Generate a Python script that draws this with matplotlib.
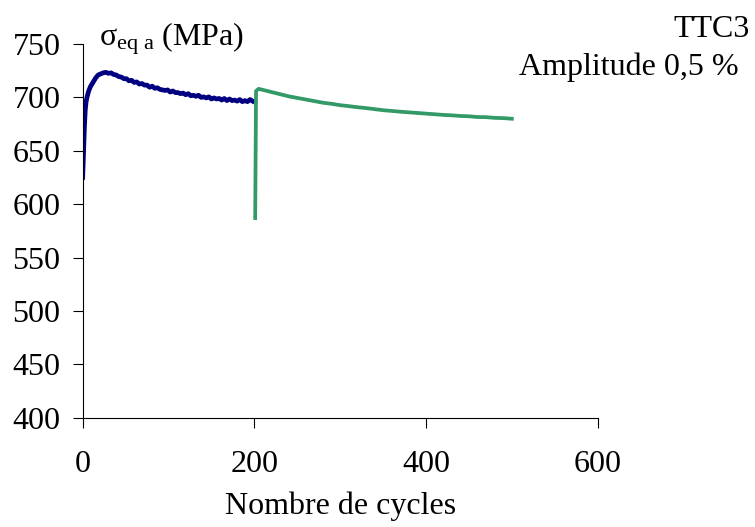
import matplotlib
matplotlib.use("Agg")
import matplotlib.pyplot as plt

# Premier essai (0-200 cycles)
cycles_1 = [0, 1, 2, 3, 4, 5, 7, 9, 12, 15, 18, 21, 24, 27, 30, 33, 36, 39,
            42, 45, 48, 51, 54, 57, 60, 63, 66, 69, 72, 75, 78, 81, 84, 87,
            90, 93, 96, 99, 102, 105, 108, 111, 114, 117, 120, 123, 126, 129,
            132, 135, 138, 141, 144, 147, 150, 153, 156, 159, 162, 165, 168,
            171, 174, 177, 180, 183, 186, 189, 192, 195, 198]
sigma_1 = [625, 648, 672, 688, 696, 700, 706, 710, 714, 718, 721, 722, 723,
           723.5, 722.5, 723, 721.5, 721, 719.5, 719, 717.5, 717.5, 715.5,
           716, 714, 714.5, 712.5, 713, 711.5, 711.5, 709.5, 710.5, 708.5,
           709, 707.5, 707, 706.5, 707, 705, 706, 704.5, 704.5, 703.5, 704,
           702.5, 703.5, 701.5, 702, 701, 702, 700, 700.5, 699.5, 700.5,
           698.5, 699.5, 698.5, 699, 697.5, 699, 697, 698.5, 697, 697.5,
           696.5, 698, 696, 697, 696, 698, 696.5]

# Second essai (200-500 cycles)
cycles_2 = [201, 202, 205, 210, 220, 230, 240, 250, 260, 270, 280, 290, 300,
            310, 320, 330, 340, 350, 360, 370, 380, 390, 400, 410, 420, 430,
            440, 450, 460, 470, 480, 490, 500]
sigma_2 = [587, 706, 708, 707, 705, 703, 701, 699.5, 698, 696.5, 695, 694,
           692.7, 691.8, 690.8, 690, 689, 688, 687.3, 686.6, 686, 685.4,
           684.8, 684.2, 683.6, 683.2, 682.6, 682.3, 681.6, 681.5, 680.8,
           680.6, 680]

x_ticks = [0, 200, 400, 600]
y_ticks = [400, 450, 500, 550, 600, 650, 700, 750]

plt.rcParams["font.family"] = ["Liberation Serif", "DejaVu Serif"]
plt.rcParams["mathtext.fontset"] = "custom"
plt.rcParams["mathtext.rm"] = "Liberation Serif"
plt.rcParams["mathtext.it"] = "Liberation Serif:italic"

fig = plt.figure(figsize=(7.55, 5.27), dpi=100)
ax = fig.add_axes([0.1095, 0.2074, 0.6821, 0.7091])

ax.plot(cycles_1, sigma_1, color="#000080", lw=3.4, solid_joinstyle="round")
ax.plot(cycles_2, sigma_2, color="#339966", lw=2.7)

ax.set_xlim(0, 600)
ax.set_ylim(400, 750)
ax.set_xticks(x_ticks)
ax.set_yticks(y_ticks)

for cote in ["top", "right"]:
    ax.spines[cote].set_visible(False)
for cote in ["left", "bottom"]:
    ax.spines[cote].set_linewidth(0.8)

ax.tick_params(axis="both", direction="out", length=7, width=0.8,
               labelsize=23)
ax.tick_params(axis="x", pad=16)
ax.tick_params(axis="y", pad=9)

ax.set_xlabel("Nombre de cycles", fontsize=23, labelpad=9)

fig.text(99 / 755, 1 - 45 / 527, r"$\mathrm{σ}_{\mathrm{eq\ a}}$ (MPa)",
         fontsize=23, ha="left", va="baseline")
fig.text(750 / 755, 1 - 37 / 527, "TTC3", fontsize=23, ha="right",
         va="baseline")
fig.text(739 / 755, 1 - 75 / 527, "Amplitude 0,5 %", fontsize=23,
         ha="right", va="baseline")

fig.savefig("out.png", dpi=100)
